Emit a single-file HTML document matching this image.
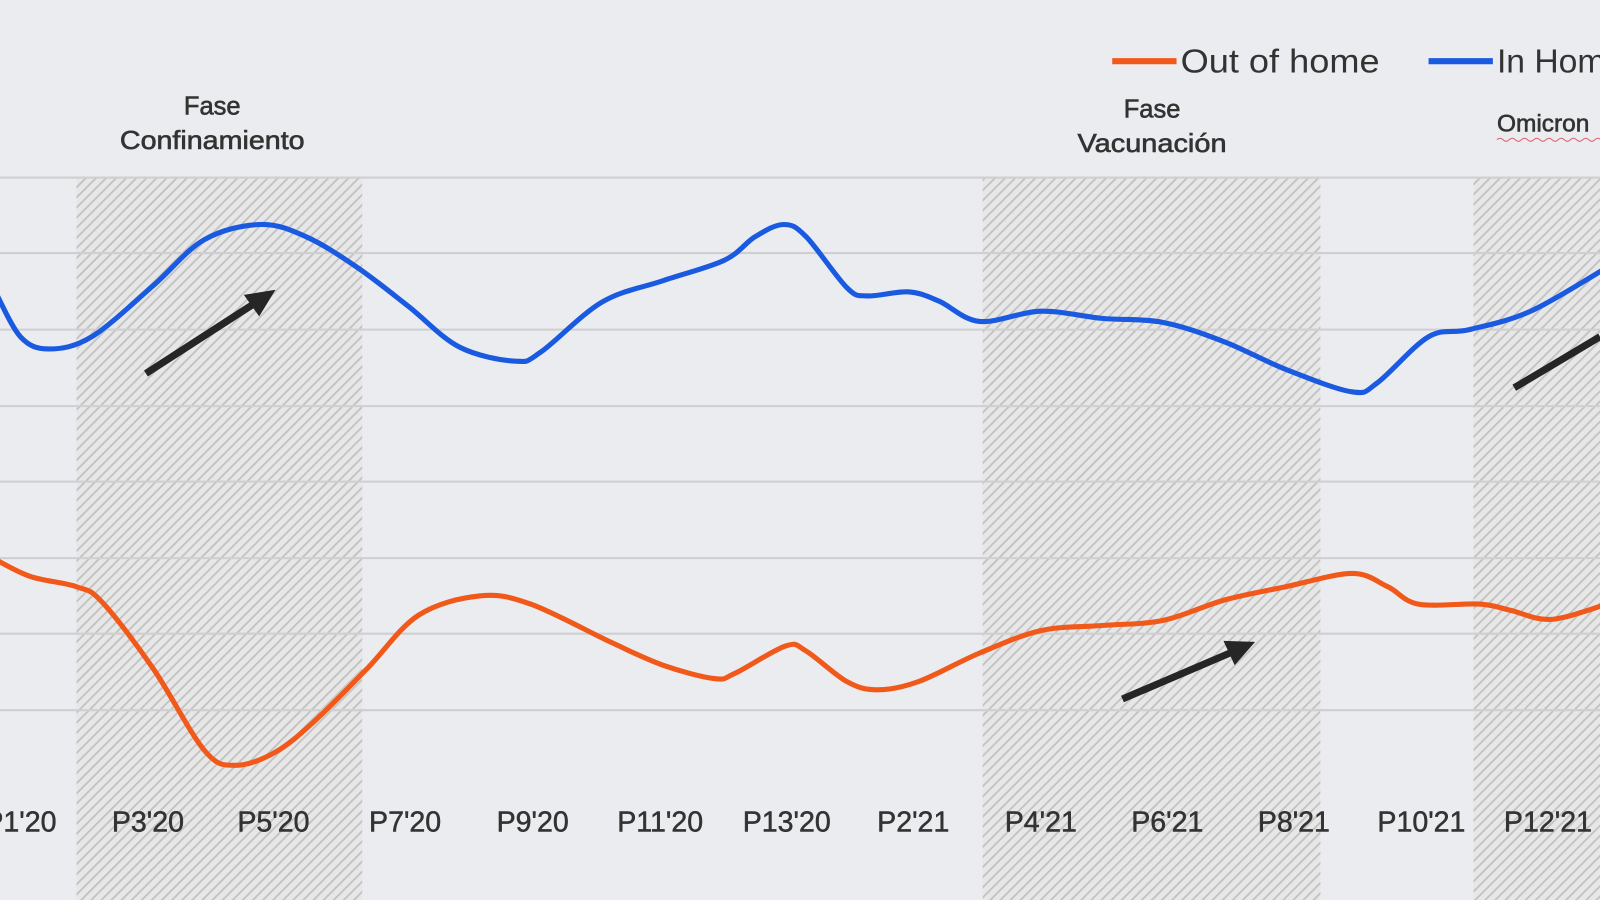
<!DOCTYPE html>
<html><head><meta charset="utf-8"><style>
html,body{margin:0;padding:0;background:#ebecef;}
svg{display:block}
text{font-family:"Liberation Sans",Arial,sans-serif;fill:#333}
</style></head><body>
<svg id="s" width="1600" height="900" viewBox="0 0 1568 882" preserveAspectRatio="none">
<defs>
<pattern id="h" patternUnits="userSpaceOnUse" width="7" height="7" patternTransform="rotate(45)">
<rect width="7" height="7" fill="#e7e7e7"/>
<rect x="0" y="0" width="1.8" height="7" fill="#c2c2c2"/>
</pattern>
</defs>
<rect width="1568" height="882" fill="#ebecef"/>
<rect x="75" y="174" width="280" height="708" fill="url(#h)"/>
<rect x="963" y="174" width="331" height="708" fill="url(#h)"/>
<rect x="1444" y="174" width="130" height="708" fill="url(#h)"/>
<g stroke="#cfcfd2" stroke-width="2">
<line x1="0" x2="1568" y1="174" y2="174"/><line x1="0" x2="1568" y1="248" y2="248"/>
<line x1="0" x2="1568" y1="323" y2="323"/><line x1="0" x2="1568" y1="398" y2="398"/>
<line x1="0" x2="1568" y1="472" y2="472"/><line x1="0" x2="1568" y1="547" y2="547"/>
<line x1="0" x2="1568" y1="621" y2="621"/><line x1="0" x2="1568" y1="696" y2="696"/>
</g>
<path id="blue" fill="none" stroke="#1a5ae0" stroke-width="5"/>
<path id="orange" fill="none" stroke="#f0591a" stroke-width="5"/>
<g stroke="#262626" stroke-width="7" fill="#262626">
<line x1="143" y1="366" x2="250" y2="297"/><polygon points="270,284 239,289 254,310" stroke="none"/>
<line x1="1100" y1="685" x2="1210" y2="638"/><polygon points="1230,629 1199,628 1210,652" stroke="none"/>
<line x1="1484" y1="380" x2="1568" y2="330"/>
</g>
<g font-size="25" text-anchor="middle" stroke="#333" stroke-width="0.6">
<text x="208" y="112">Fase</text><text x="208" y="146" textLength="181" lengthAdjust="spacingAndGlyphs">Confinamiento</text>
<text x="1129" y="115">Fase</text><text x="1129" y="149" textLength="146" lengthAdjust="spacingAndGlyphs">Vacunación</text>
<text x="1467" y="129" text-anchor="start" font-size="24">Omicron</text>
</g>
<path d="M1467 137 q3 -3 6 0 t6 0 t6 0 t6 0 t6 0 t6 0 t6 0 t6 0 t6 0 t6 0 t6 0 t6 0 t6 0 t6 0 t6 0 t6 0 t6 0" fill="none" stroke="#e06070" stroke-width="1"/>
<line x1="1090" y1="60" x2="1153" y2="60" stroke="#f0591a" stroke-width="6"/>
<text x="1157" y="71" font-size="33" textLength="195" lengthAdjust="spacingAndGlyphs">Out of home</text>
<line x1="1400" y1="60" x2="1463" y2="60" stroke="#1a5ae0" stroke-width="6"/>
<text x="1467" y="71" font-size="33">In Home</text>
<g font-size="28" text-anchor="middle" stroke="#333" stroke-width="0.5">
<text x="20" y="815">P1'20</text><text x="145" y="815">P3'20</text><text x="268" y="815">P5'20</text>
<text x="397" y="815">P7'20</text><text x="522" y="815">P9'20</text><text x="647" y="815">P11'20</text>
<text x="771" y="815">P13'20</text><text x="895" y="815">P2'21</text><text x="1020" y="815">P4'21</text>
<text x="1144" y="815">P6'21</text><text x="1268" y="815">P8'21</text><text x="1393" y="815">P10'21</text>
<text x="1517" y="815">P12'21</text>
</g>
</svg>
<script>
function cr(p){var d="M"+p[0][0]+" "+p[0][1];for(var i=0;i<p.length-1;i++){var a=p[i-1]||p[i],b=p[i],c=p[i+1],e=p[i+2]||c;
d+=" C"+(b[0]+(c[0]-a[0])/6)+" "+(b[1]+(c[1]-a[1])/6)+" "+(c[0]-(e[0]-b[0])/6)+" "+(c[1]-(e[1]-b[1])/6)+" "+c[0]+" "+c[1];}return d;}
var B=[[-5,285],[20,330],[48,342],[90,330],[150,280],[200,235],[255,220],[300,232],[350,262],[400,300],[450,340],[505,354],[530,345],[590,296],[650,275],[710,255],[740,232],[768,220],[790,232],[830,282],[850,290],[890,286],[920,295],[960,315],[1020,305],[1080,312],[1140,316],[1200,335],[1260,362],[1325,384],[1350,375],[1400,330],[1440,323],[1500,305],[1575,262]];
var O=[[-5,548],[30,565],[75,575],[100,590],[150,655],[200,735],[230,750],[270,737],[310,705],[360,655],[410,603],[470,584],[520,592],[600,630],[650,652],[700,665],[720,660],[770,633],[790,638],[830,668],[860,676],[900,668],[960,640],[1020,618],[1080,613],[1140,608],[1200,588],[1260,575],[1325,562],[1360,575],[1390,592],[1450,592],[1480,598],[1520,607],[1575,592]];
document.getElementById("blue").setAttribute("d",cr(B));
document.getElementById("orange").setAttribute("d",cr(O));
</script>
</body></html>
